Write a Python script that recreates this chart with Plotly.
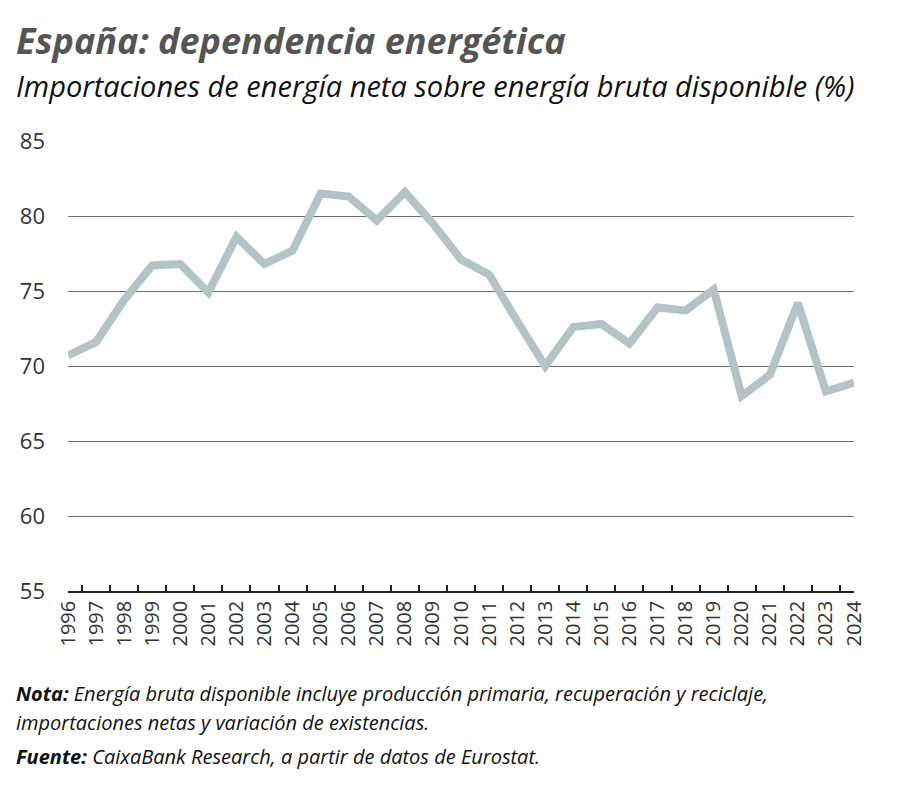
import plotly.graph_objects as go

years = [str(y) for y in range(1996, 2025)]
dependencia = [
    70.7, 71.6, 74.4, 76.7, 76.8, 74.9, 78.6, 76.8, 77.7, 81.5,
    81.3, 79.7, 81.6, 79.5, 77.1, 76.1, 73.0, 70.0, 72.6, 72.8,
    71.5, 73.9, 73.7, 75.1, 68.0, 69.4, 74.2, 68.3, 68.9,
]
y_ticks = [55, 60, 65, 70, 75, 80, 85]

FONT = "Open Sans, sans-serif"

fig = go.Figure(go.Scatter(
    x=years,
    y=dependencia,
    mode="lines",
    line=dict(color="#b5c3c6", width=8),
    showlegend=False,
))

# the page body adds an 8px margin, so offsets are 8px less than on screen
fig.update_layout(
    width=900,
    height=788,
    paper_bgcolor="white",
    plot_bgcolor="white",
    margin=dict(l=58, r=54, t=133, b=205),
    font=dict(family=FONT, color="#333333"),
    xaxis=dict(
        type="category",
        tickson="boundaries",
        ticks="inside",
        ticklen=6,
        tickwidth=1.5,
        tickcolor="#222222",
        showline=True,
        linecolor="#222222",
        linewidth=1.5,
        showgrid=False,
        tickangle=-90,
        tickfont=dict(size=20, color="#333333"),
    ),
    yaxis=dict(
        range=[55, 85],
        tickvals=y_ticks,
        showgrid=True,
        gridcolor="#707070",
        gridwidth=1,
        zeroline=False,
        ticks="",
        ticklabelstandoff=22,
        tickfont=dict(size=22, color="#333333"),
    ),
)

X0 = -0.0685
fig.add_annotation(
    text="<b><i>España: dependencia energética</i></b>",
    xref="paper", yref="paper", x=X0, y=1.0, yshift=127,
    xanchor="left", yanchor="top", showarrow=False,
    font=dict(size=36, color="#555555", family=FONT),
)
fig.add_annotation(
    text="<i>Importaciones de energía neta sobre energía bruta disponible (%)</i>",
    xref="paper", yref="paper", x=X0, y=1.0, yshift=77,
    xanchor="left", yanchor="top", showarrow=False,
    font=dict(size=29, color="#111111", family=FONT),
)

notas = [
    ("<b><i>Nota:</i></b><i> Energía bruta disponible incluye producción primaria, "
     "recuperación y reciclaje,</i>", -102),
    ("<i>importaciones netas y variación de existencias.</i>", -131),
    ("<b><i>Fuente:</i></b><i> CaixaBank Research, a partir de datos de Eurostat.</i>", -165),
]
for texto, shift in notas:
    fig.add_annotation(
        text=texto,
        xref="paper", yref="paper", x=X0, y=0.0, yshift=shift,
        xanchor="left", yanchor="middle", align="left", showarrow=False,
        font=dict(size=20, color="#111111", family=FONT),
    )

fig.write_html("out.html")
